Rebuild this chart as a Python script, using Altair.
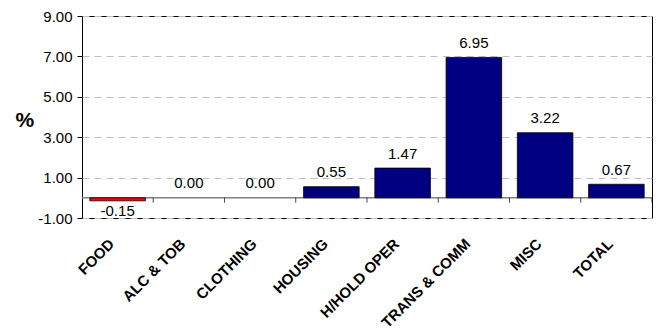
import altair as alt
import pandas as pd

categories = ["FOOD", "ALC & TOB", "CLOTHING", "HOUSING", "H/HOLD OPER", "TRANS & COMM", "MISC", "TOTAL"]
values = [-0.15, 0.00, 0.00, 0.55, 1.47, 6.95, 3.22, 0.67]
bar_colors = ["#FF0000", "#000080", "#000080", "#000080", "#000080", "#000080", "#000080", "#000080"]
y_ticks = [-1, 1, 3, 5, 7, 9]

df = pd.DataFrame({"cat": categories, "val": values, "color": bar_colors})
FONT = "Arial, Liberation Sans, sans-serif"

x = alt.X("cat:N", sort=categories, scale=alt.Scale(paddingInner=0.22, paddingOuter=0.11),
          axis=alt.Axis(title=None, labelAngle=-45, labelAlign="right", labelBaseline="middle",
                        labelFontWeight="bold", labelFontSize=15, labelFont=FONT, labelColor="black",
                        labelPadding=23, labelOffset=-6, ticks=False, domain=False, grid=False))
y = alt.Y("val:Q", scale=alt.Scale(domain=[-1, 9], nice=False, zero=False),
          axis=alt.Axis(title="%", titleAngle=0, titleFontSize=21, titleFont=FONT, titleFontWeight="bold",
                        titleColor="black", titleX=-67, titleY=104, titleAlign="left", titleBaseline="middle",
                        values=y_ticks, format=".2f",
                        labelExpr="replace(datum.label, '\u2212', '-')",
                        labelFontSize=15, labelFont=FONT, labelColor="black",
                        labelPadding=5, tickColor="black", tickSize=5, domain=False,
                        grid=True, gridColor="#c0c0c0", gridDash=[7, 5]))

base = alt.Chart(df).transform_calculate(
    lbl="replace(format(datum.val, '.2f'), '\u2212', '-')")
zero = alt.Chart(pd.DataFrame({"z": [0]})).mark_rule(color="#808080", strokeWidth=1.5).encode(y=alt.Y("z:Q"))
bars = base.transform_filter("datum.val != 0").mark_bar(stroke="black", strokeWidth=0.8).encode(
    x=x, y=y, y2=alt.datum(0), color=alt.Color("color:N", scale=None))
ticks = base.mark_tick(color="black", orient="vertical", size=5, thickness=1, xOffset=35.6, yOffset=2.5).encode(
    x=alt.X("cat:N", sort=categories), y=alt.datum(0))
pos = base.transform_filter("datum.val >= 0").mark_text(
    baseline="alphabetic", dy=-9.5, fontSize=15, font=FONT, color="black").encode(
    x=alt.X("cat:N", sort=categories), y="val:Q", text="lbl:N")
neg = base.transform_filter("datum.val < 0").mark_text(
    baseline="alphabetic", dy=15.5, fontSize=15, font=FONT, color="black").encode(
    x=alt.X("cat:N", sort=categories), y="val:Q", text="lbl:N")

chart = alt.layer(zero, bars, ticks, pos, neg).properties(
    width=570, height=202,
    autosize=alt.AutoSizeParams(type="none"),
    padding={"left": 82, "top": 16, "right": 5, "bottom": 115},
    background="white",
).configure_view(stroke="black", strokeWidth=1)

chart.save("out.html", embed_options={"renderer": "svg", "actions": False})
